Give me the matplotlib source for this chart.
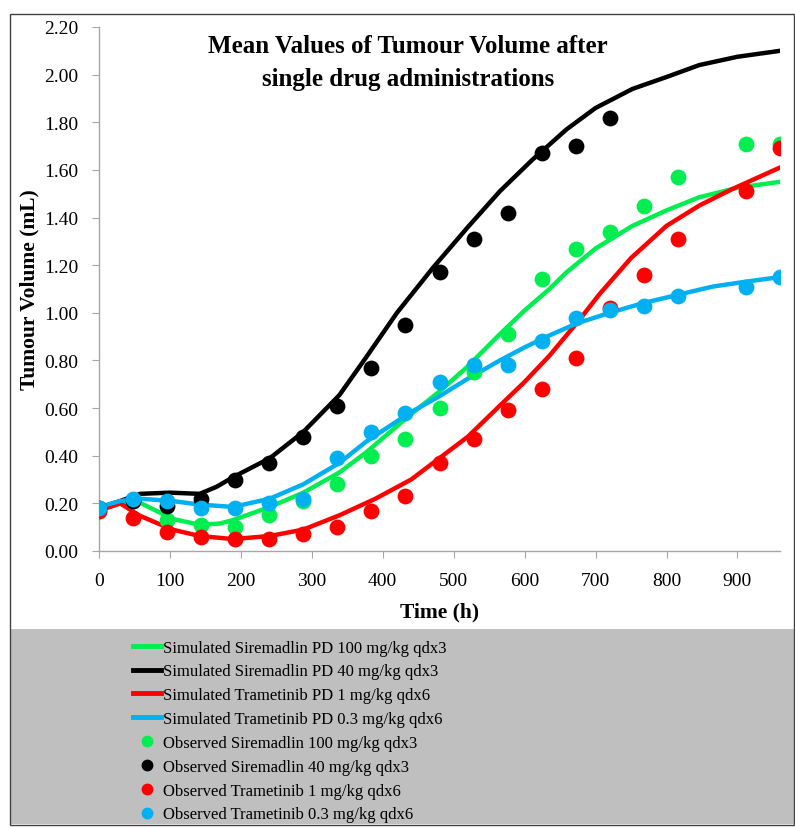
import matplotlib.pyplot as plt
from matplotlib.patches import Rectangle
from matplotlib.lines import Line2D

plt.rcParams['font.family'] = ['Liberation Serif', 'DejaVu Serif']

# observation times (h)
t_obs = [0, 48, 96, 144, 192, 240, 288, 336, 384, 432, 480, 528, 576, 624, 672, 720, 768, 816, 912, 960]
t_obs_sire40 = [0, 48, 96, 144, 192, 240, 288, 336, 384, 432, 480, 528, 576, 624, 672, 720]

obs_sire100 = [0.17, 0.21, 0.13, 0.11, 0.10, 0.15, 0.21, 0.28, 0.40, 0.47, 0.60, 0.75, 0.91, 1.14, 1.27, 1.34, 1.45, 1.57, 1.71, 1.71]
obs_sire40 = [0.18, 0.21, 0.19, 0.22, 0.30, 0.37, 0.48, 0.61, 0.77, 0.95, 1.17, 1.31, 1.42, 1.67, 1.70, 1.82]
obs_tram1 = [0.17, 0.14, 0.08, 0.06, 0.05, 0.05, 0.07, 0.10, 0.17, 0.23, 0.37, 0.47, 0.59, 0.68, 0.81, 1.02, 1.16, 1.31, 1.51, 1.69]
obs_tram03 = [0.18, 0.22, 0.21, 0.18, 0.18, 0.20, 0.22, 0.39, 0.50, 0.58, 0.71, 0.78, 0.78, 0.88, 0.98, 1.01, 1.03, 1.07, 1.11, 1.15]

# simulated curves
t_sim_sire40 = [0, 30, 58, 100, 142, 166, 189, 241, 288, 339, 377, 420, 471, 520, 565, 610, 659, 700, 752, 800, 846, 900, 960]
sim_sire40 = [0.18, 0.21, 0.24, 0.245, 0.24, 0.27, 0.31, 0.39, 0.50, 0.655, 0.815, 1.00, 1.19, 1.36, 1.51, 1.64, 1.77, 1.86, 1.94, 1.99, 2.04, 2.075, 2.10]

t_sim_sire100 = [0, 30, 56, 80, 103, 142, 170, 189, 241, 288, 339, 377, 438, 480, 518, 565, 600, 635, 659, 700, 752, 800, 846, 900, 960]
sim_sire100 = [0.17, 0.20, 0.205, 0.17, 0.135, 0.11, 0.115, 0.13, 0.185, 0.245, 0.33, 0.415, 0.57, 0.67, 0.77, 0.91, 1.01, 1.10, 1.17, 1.27, 1.365, 1.43, 1.485, 1.525, 1.55]

t_sim_tram1 = [0, 30, 56, 103, 142, 189, 241, 288, 339, 390, 440, 480, 520, 565, 600, 635, 677, 706, 750, 800, 846, 893, 960]
sim_tram1 = [0.17, 0.20, 0.15, 0.09, 0.063, 0.05, 0.063, 0.09, 0.15, 0.22, 0.30, 0.39, 0.48, 0.61, 0.71, 0.82, 0.97, 1.08, 1.23, 1.365, 1.45, 1.52, 1.61]

t_sim_tram03 = [0, 30, 56, 103, 142, 189, 241, 288, 339, 377, 438, 480, 518, 565, 600, 635, 673, 720, 766, 815, 865, 910, 960]
sim_tram03 = [0.185, 0.21, 0.22, 0.21, 0.195, 0.185, 0.22, 0.28, 0.37, 0.46, 0.58, 0.65, 0.72, 0.80, 0.855, 0.905, 0.955, 1.00, 1.04, 1.075, 1.11, 1.13, 1.15]

green = '#00ee50'
blue = '#00b0f0'
red = '#ff0000'
black = '#000000'

fig = plt.figure(figsize=(7.95, 8.29), dpi=100)

# grey legend area and outer frame
fig.patches.append(Rectangle((10/795, 4/829), 785/795, 195/829, transform=fig.transFigure,
                             facecolor='#bfbfbf', edgecolor='none', zorder=0))
fig.patches.append(Rectangle((10/795, 3/829), 784/795, 811/829, transform=fig.transFigure,
                             facecolor='none', edgecolor='#404040', linewidth=1, zorder=1))

ax = fig.add_axes([99/795, 1 - 552/829, 681/795, 524/829])

ax.plot(t_sim_sire100, sim_sire100, color=green, lw=3.2)
ax.plot(t_sim_sire40, sim_sire40, color=black, lw=3.2)
ax.plot(t_sim_tram1, sim_tram1, color=red, lw=3.2)
ax.plot(t_sim_tram03, sim_tram03, color=blue, lw=3.2)

ms = 130
ax.scatter(t_obs, obs_sire100, s=ms, color=green, zorder=3, linewidths=0)
ax.scatter(t_obs_sire40, obs_sire40, s=ms, color=black, zorder=3, linewidths=0)
ax.scatter(t_obs, obs_tram1, s=ms, color=red, zorder=3, linewidths=0)
ax.scatter(t_obs, obs_tram03, s=ms, color=blue, zorder=3, linewidths=0)

ax.set_xlim(0, 960)
ax.set_ylim(0, 2.2)
ax.set_xticks(range(0, 1000, 100))
ax.set_xticklabels([str(v) for v in range(0, 1000, 100)])
ax.set_yticks([i * 0.2 for i in range(12)])
ax.set_yticklabels([f'{i * 0.2:.2f}' for i in range(12)])
ax.tick_params(labelsize=14, color='#a6a6a6', length=5)
ax.tick_params(axis='y', pad=10)
ax.tick_params(axis='x', pad=10)
for s in ['top', 'right']:
    ax.spines[s].set_visible(False)
for s in ['left', 'bottom']:
    ax.spines[s].set_color('#a6a6a6')
    ax.spines[s].set_linewidth(1)

ax.set_xlabel('Time (h)', fontsize=15.5, fontweight='bold', labelpad=9)
ax.set_ylabel('Tumour Volume (mL)', fontsize=15.5, fontweight='bold', labelpad=3)
fig.text(408/795, 1 - 63/829, 'Mean Values of Tumour Volume after\nsingle drug administrations',
         ha='center', va='center', fontsize=18, fontweight='bold', linespacing=1.55)

handles = [
    Line2D([], [], color=green, lw=3.5),
    Line2D([], [], color=black, lw=3.5),
    Line2D([], [], color=red, lw=3.5),
    Line2D([], [], color=blue, lw=3.5),
    Line2D([], [], color=green, marker='o', ls='none', ms=7.5),
    Line2D([], [], color=black, marker='o', ls='none', ms=7.5),
    Line2D([], [], color=red, marker='o', ls='none', ms=7.5),
    Line2D([], [], color=blue, marker='o', ls='none', ms=7.5),
]
labels = [
    'Simulated Siremadlin PD 100 mg/kg qdx3',
    'Simulated Siremadlin PD 40 mg/kg qdx3',
    'Simulated Trametinib PD 1 mg/kg qdx6',
    'Simulated Trametinib PD 0.3 mg/kg qdx6',
    'Observed Siremadlin 100 mg/kg qdx3',
    'Observed Siremadlin 40 mg/kg qdx3',
    'Observed Trametinib 1 mg/kg qdx6',
    'Observed Trametinib 0.3 mg/kg qdx6',
]
fig.legend(handles, labels, loc='upper left', bbox_to_anchor=(126/795, 1 - 634/829),
           frameon=False, fontsize=12, handlelength=1.7, handletextpad=0.12,
           labelspacing=0.47, borderaxespad=0)

fig.savefig('out.png', dpi=100)
